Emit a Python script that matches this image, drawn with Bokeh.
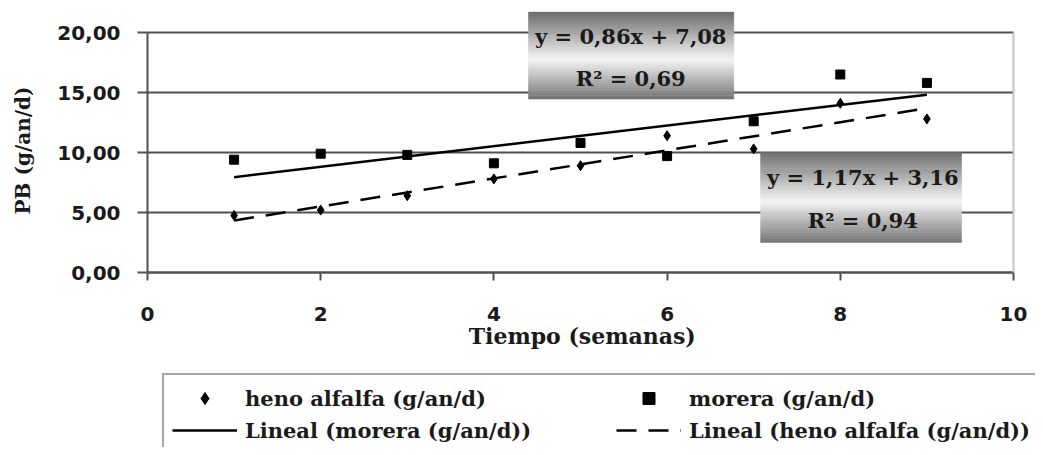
import math
from bokeh.plotting import figure
from bokeh.models import (Range1d, FixedTicker, LinearAxis, Legend, LegendItem)
from bokeh.core.properties import value
from bokeh.embed import file_html
from bokeh.resources import INLINE

# ---------------- data ----------------
weeks = [1, 2, 3, 4, 5, 6, 7, 8, 9]
heno_alfalfa = [4.75, 5.2, 6.4, 7.8, 8.9, 11.4, 10.3, 14.1, 12.8]
morera = [9.4, 9.9, 9.8, 9.1, 10.8, 9.7, 12.6, 16.5, 15.8]

# trend line coefficients as printed on the chart
morera_fit = [0.86, 7.08]      # slope, intercept
heno_fit = [1.17, 3.16]
morera_eq = "y = 0,86x + 7,08"
heno_eq = "y = 1,17x + 3,16"
morera_r2 = "0,69"
heno_r2 = "0,94"
fit_x = [1, 9]

y_ticks = [0, 5, 10, 15, 20]
y_tick_labels = ["0,00", "5,00", "10,00", "15,00", "20,00"]
x_ticks = [0, 2, 4, 6, 8, 10]
x_tick_labels = ["0", "2", "4", "6", "8", "10"]
x_title = "Tiempo (semanas)"
y_title = "PB (g/an/d)"

# ---------------- styling / layout ----------------
SERIF = "DejaVu Serif"
SANS = "DejaVu Sans"
INK = "#1a1a1a"
GRID = "#505050"
X_MAX, Y_MAX = 10, 20
W, H = 1035, 447
# pixel position of the plot area inside the canvas
PX_X0, PX_PER_X = 147.0, 86.6
PX_Y20, PX_PER_Y = 32.0, 12.0

x_range = Range1d(-PX_X0 / PX_PER_X, (W - PX_X0) / PX_PER_X)
y_range = Range1d(Y_MAX - (H - PX_Y20) / PX_PER_Y, Y_MAX + PX_Y20 / PX_PER_Y)

p = figure(width=W, height=H, output_backend="svg", toolbar_location=None,
           x_range=x_range, y_range=y_range,
           min_border_left=0, min_border_right=0, min_border_top=0,
           min_border_bottom=0)
p.outline_line_color = None
p.background_fill_color = "white"
p.border_fill_color = "white"

p.xgrid.visible = False
p.ygrid.visible = False

# horizontal gridlines (plot area only: 0..X_MAX)
p.segment(x0=[0] * len(y_ticks), x1=[X_MAX] * len(y_ticks), y0=y_ticks, y1=y_ticks,
          line_color=GRID, line_width=2)

# axes
for ax in (p.xaxis[0], p.yaxis[0]):
    ax.fixed_location = 0
    ax.axis_line_color = GRID
    ax.axis_line_width = 2
    ax.major_tick_line_color = GRID
    ax.major_tick_line_width = 2
    ax.minor_tick_line_color = None
    ax.major_tick_in = 0
    ax.major_label_text_font = SANS
    ax.major_label_text_font_style = "bold"
    ax.major_label_text_font_size = "20px"
    ax.major_label_text_color = INK

p.yaxis.ticker = FixedTicker(ticks=y_ticks)
p.yaxis.major_label_overrides = dict(zip(y_ticks, y_tick_labels))
p.yaxis.bounds = (0, Y_MAX)
p.yaxis.major_tick_out = 10
p.yaxis.major_label_standoff = 17

p.xaxis.bounds = (0, X_MAX)
p.xaxis.ticker = FixedTicker(ticks=x_ticks)
p.xaxis.major_label_overrides = dict(zip(x_ticks, x_tick_labels))
p.xaxis.major_tick_out = 8
p.xaxis.major_label_standoff = 26

# right border of plot area
rax = LinearAxis(fixed_location=X_MAX, ticker=FixedTicker(ticks=[]), bounds=(0, Y_MAX),
                 axis_line_color="#c4c4c4", axis_line_width=2,
                 major_tick_line_color=None, minor_tick_line_color=None,
                 major_label_text_font_size="0px")
p.add_layout(rax, "right")

# axis titles
p.text(x=[5.02], y=[-5.33], text=[x_title], text_font=value(SERIF),
       text_font_style="bold", text_font_size="22px", text_color=INK,
       text_align="center", text_baseline="middle")
p.text(x=[-1.443], y=[10.17], text=[y_title], angle=math.pi / 2, text_font=value(SERIF),
       text_font_style="bold", text_font_size="20px", text_color=INK,
       text_align="center", text_baseline="middle")

# equation boxes with gray gradient
boxes = [
    dict(left=4.40, right=6.77, top=21.7, bottom=14.45, cx=5.58, ly=[19.67, 16.17]),
    dict(left=7.08, right=9.40, top=10.0, bottom=2.5, cx=8.26, ly=[7.92, 4.33]),
]
eq_texts = [
    [morera_eq, "R\u00b2 = " + morera_r2],
    [heno_eq, "R\u00b2 = " + heno_r2],
]


def shade(t):
    dark, light, dark2 = 0x6c, 0xf4, 0x72
    if t < 0.55:
        v = dark + (light - dark) * (t / 0.55)
    else:
        v = light + (dark2 - light) * ((t - 0.55) / 0.45)
    v = int(round(v))
    return "#%02x%02x%02x" % (v, v, v)


N = 44
for b, texts in zip(boxes, eq_texts):
    tops, bots, cols = [], [], []
    h = b["top"] - b["bottom"]
    for i in range(N):
        tops.append(b["top"] - h * i / N)
        bots.append(b["top"] - h * (i + 1) / N)
        cols.append(shade((i + 0.5) / N))
    p.quad(left=[b["left"]] * N, right=[b["right"]] * N, top=tops, bottom=bots,
           fill_color=cols, line_color=cols, line_width=0.5)
    p.text(x=[b["cx"], b["cx"]], y=b["ly"], text=texts,
           text_font=value(SERIF), text_font_style="bold", text_font_size="21px",
           text_color=INK, text_align="center", text_baseline="middle")

# trend lines
mor_line = p.line(fit_x, [morera_fit[0] * x + morera_fit[1] for x in fit_x],
                  line_color="black", line_width=2.5)
heno_line = p.line(fit_x, [heno_fit[0] * x + heno_fit[1] for x in fit_x],
                   line_color="black", line_width=2.5, line_dash="20 12")

# markers
heno_r = p.scatter(weeks, heno_alfalfa, marker="diamond", size=10,
                   fill_color="black", line_color="black")
mor_r = p.scatter(weeks, morera, marker="square", size=9,
                  fill_color="black", line_color="black")

legend = Legend(items=[
    LegendItem(label="heno alfalfa (g/an/d)", renderers=[heno_r]),
    LegendItem(label="morera (g/an/d)", renderers=[mor_r]),
    LegendItem(label="Lineal (morera (g/an/d))", renderers=[mor_line]),
    LegendItem(label="Lineal (heno alfalfa (g/an/d))", renderers=[heno_line]),
], orientation="horizontal", ncols=2, location=(162, -8), margin=0,
    padding=8, spacing=2, glyph_width=65, glyph_height=30, label_height=30,
    label_width=369, label_standoff=8,
    label_text_font=SERIF, label_text_font_style="bold",
    label_text_font_size="21px", label_text_color=INK,
    border_line_color=GRID, border_line_width=2,
    background_fill_color="white", background_fill_alpha=1.0)
p.add_layout(legend)

open("out.html", "w").write(file_html(p, INLINE))
